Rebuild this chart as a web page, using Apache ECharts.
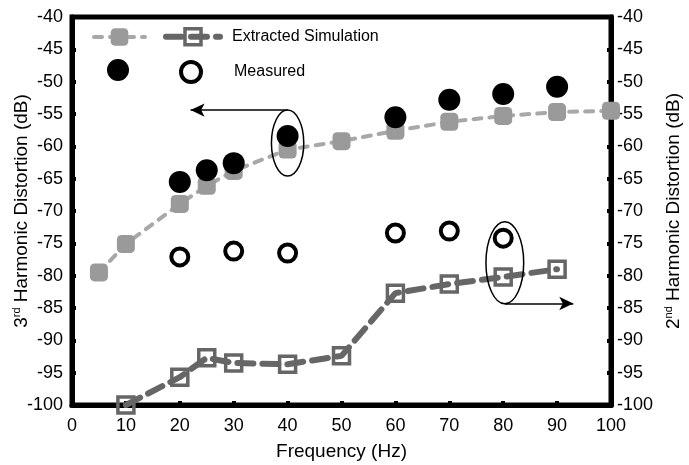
<!DOCTYPE html>
<html>
<head>
<meta charset="utf-8">
<script src="https://cdn.jsdelivr.net/npm/echarts@6/dist/echarts.min.js"></script>
<style>
  html, body { margin: 0; padding: 0; background: #fff; }
  #chart { width: 689px; height: 465px; }
</style>
</head>
<body>
<div id="chart"></div>
<script>
// Frequency sweep: 3rd harmonic (left axis) and 2nd harmonic (right axis)
const simFreq3 = [5, 10, 20, 25, 30, 40, 50, 60, 70, 80, 90, 100];
const sim3 = [-79.5, -75.1, -68.9, -66.1, -63.8, -60.5, -59.2, -57.6, -56.2, -55.3, -54.7, -54.5];

const simFreq2 = [10, 20, 25, 30, 40, 50, 60, 70, 80, 90];
const sim2 = [-100, -95.7, -92.7, -93.5, -93.7, -92.4, -82.7, -81.3, -80.2, -79.0];

const measFreq3 = [20, 25, 30, 40, 60, 70, 80, 90];
const meas3 = [-65.5, -63.7, -62.6, -58.4, -55.5, -52.8, -51.9, -50.8];

const measFreq2 = [20, 30, 40, 60, 70, 80];
const meas2 = [-77.1, -76.2, -76.5, -73.4, -73.1, -74.2];

// Callouts: ellipse [x, y, halfWidth, halfHeight] in data units, arrows [fromX, toX, y]
const callout3 = [40, -59.5, 3.0, 5.1];
const callout2 = [80.3, -78.0, 3.5, 6.35];
const arrow3 = [40, 22, -54.4];
const arrow2 = [80.3, 93, -84.3];

const FONT = "'Liberation Sans', Arial, sans-serif";

const SIM3_LINE = { color: '#a8a8a8', width: 4, type: [8, 8], cap: 'round' };
const SIM2_LINE = { color: '#666', width: 6, type: [16, 9], cap: 'round' };

const pairs = (xs, ys) => xs.map((x, i) => [x, ys[i]]);

const chart = echarts.init(document.getElementById('chart'));

const yAxisBase = {
  type: 'value', min: -100, max: -40, interval: 5,
  nameLocation: 'middle', nameRotate: 90, nameMoveOverlap: false,
  nameTextStyle: {
    fontFamily: FONT, fontSize: 19, color: '#000', lineHeight: 22,
    rich: { sup: { fontFamily: FONT, fontSize: 11, color: '#000', verticalAlign: 'top', lineHeight: 22 } }
  },
  axisLine: { show: true, lineStyle: { color: '#000', width: 5 } },
  axisTick: { show: true, inside: true, length: 4, lineStyle: { color: '#000', width: 4 } },
  axisLabel: { fontFamily: FONT, fontSize: 18, color: '#000' },
  splitLine: { show: false }
};

const legendBase = {
  padding: 0, itemGap: 0, selectedMode: false,
  textStyle: { fontFamily: FONT, fontSize: 16, color: '#000' }
};

chart.setOption({
  animation: false,
  backgroundColor: '#fff',
  grid: {
    left: 72, right: 78, top: 17, bottom: 60, outerBoundsMode: 'none', containLabel: false,
    show: true, borderColor: '#000', borderWidth: 5
  },
  xAxis: {
    type: 'value', min: 0, max: 100, interval: 10,
    name: 'Frequency (Hz)', nameLocation: 'middle', nameGap: 37, nameMoveOverlap: false,
    nameTextStyle: { fontFamily: FONT, fontSize: 19, color: '#000' },
    axisLine: { show: true, lineStyle: { color: '#000', width: 5 } },
    axisTick: { show: true, inside: true, length: 4, lineStyle: { color: '#000', width: 4 } },
    axisLabel: { fontFamily: FONT, fontSize: 18, color: '#000', margin: 12 },
    splitLine: { show: false }
  },
  yAxis: [
    Object.assign({}, yAxisBase, {
      position: 'left', name: '3{sup|rd} Harmonic Distortion (dB)', nameGap: 39,
      axisLabel: Object.assign({}, yAxisBase.axisLabel, { margin: 9 })
    }),
    Object.assign({}, yAxisBase, {
      position: 'right', name: '2{sup|nd} Harmonic Distortion (dB)', nameGap: 52,
      axisLabel: Object.assign({}, yAxisBase.axisLabel, { margin: 6 })
    })
  ],
  legend: [
    Object.assign({}, legendBase, {
      data: ['sim3'], left: 92, top: 26, itemWidth: 51, itemHeight: 22, formatter: () => '',
      lineStyle: SIM3_LINE
    }),
    Object.assign({}, legendBase, {
      data: ['sim2'], left: 163, top: 27, itemWidth: 54, itemHeight: 20,
      formatter: () => 'Extracted Simulation',
      lineStyle: SIM2_LINE,
      itemStyle: { borderColor: '#666', borderWidth: 3.5 },
      textStyle: Object.assign({}, legendBase.textStyle, { padding: [0, 0, 0, 7] })
    }),
    Object.assign({}, legendBase, { data: ['meas3'], left: 107, top: 59, itemWidth: 22, itemHeight: 22, formatter: () => '' }),
    Object.assign({}, legendBase, {
      data: ['meas2'], left: 179, top: 60, itemWidth: 20, itemHeight: 20,
      formatter: () => 'Measured',
      itemStyle: { color: '#fff', borderColor: '#000', borderWidth: 4 },
      textStyle: Object.assign({}, legendBase.textStyle, { padding: [0, 0, 0, 28] })
    })
  ],
  series: [
    {
      name: 'sim3', type: 'line', yAxisIndex: 0, z: 2,
      data: pairs(simFreq3, sim3),
      symbol: 'roundRect', symbolSize: 18,
      itemStyle: { color: '#9a9a9a' },
      lineStyle: SIM3_LINE,
      markLine: {
        silent: true, symbol: ['none', 'arrow'], symbolSize: [10, 14],
        label: { show: false },
        lineStyle: { color: '#000', width: 1.5, type: 'solid' },
        data: [[{ coord: [arrow3[0], arrow3[2]] }, { coord: [arrow3[1], arrow3[2]] }]]
      }
    },
    {
      name: 'sim2', type: 'line', yAxisIndex: 1, z: 3,
      data: pairs(simFreq2, sim2),
      symbol: 'rect', symbolSize: 16,
      itemStyle: { color: 'rgba(255,255,255,0)', borderColor: '#666', borderWidth: 3.5 },
      lineStyle: SIM2_LINE,
      markLine: {
        silent: true, symbol: ['none', 'arrow'], symbolSize: [10, 14],
        label: { show: false },
        lineStyle: { color: '#000', width: 1.5, type: 'solid' },
        data: [[{ coord: [arrow2[0], arrow2[2]] }, { coord: [arrow2[1], arrow2[2]] }]]
      }
    },
    {
      name: 'meas3', type: 'scatter', yAxisIndex: 0, z: 4,
      data: pairs(measFreq3, meas3),
      symbol: 'circle', symbolSize: 22,
      itemStyle: { color: '#000', opacity: 1 }
    },
    {
      name: 'meas2', type: 'scatter', yAxisIndex: 1, z: 4,
      data: pairs(measFreq2, meas2),
      symbol: 'circle', symbolSize: 17,
      itemStyle: { color: '#fff', borderColor: '#000', borderWidth: 4, opacity: 1 }
    }
  ]
});

// Elliptical callouts placed through the axis scales
function ellipseFor(c, yAxisIndex) {
  const center = chart.convertToPixel({ xAxisIndex: 0, yAxisIndex }, [c[0], c[1]]);
  const corner = chart.convertToPixel({ xAxisIndex: 0, yAxisIndex }, [c[0] + c[2], c[1] + c[3]]);
  return {
    type: 'ellipse', z: 100,
    shape: { cx: center[0], cy: center[1], rx: Math.abs(corner[0] - center[0]), ry: Math.abs(center[1] - corner[1]) },
    style: { fill: 'none', stroke: '#000', lineWidth: 1.5 }
  };
}
chart.setOption({ graphic: [ellipseFor(callout3, 0), ellipseFor(callout2, 1)] });
</script>
</body>
</html>
